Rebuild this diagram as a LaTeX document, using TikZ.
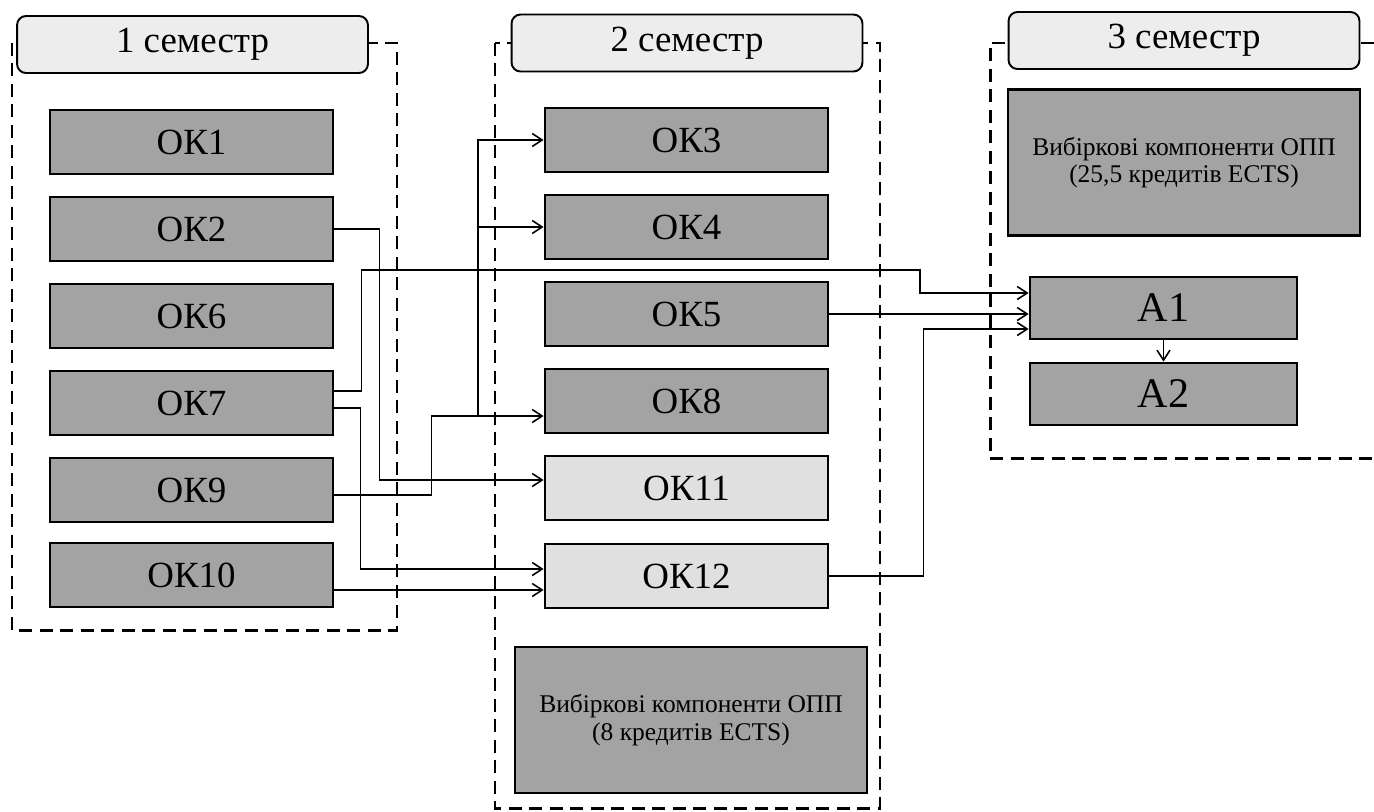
\documentclass[tikz,border=0pt]{standalone}
\usepackage{fontspec}
\setmainfont{Liberation Serif}
\usepackage{tikz}
\usetikzlibrary{arrows.meta,calc}

\definecolor{okgray}{gray}{0.64}
\definecolor{okpale}{gray}{0.88}
\definecolor{headgray}{gray}{0.93}

\begin{document}
\begin{tikzpicture}[x=0.02cm,y=-0.02cm,
    okbox/.style={draw,fill=okgray,line width=1.6pt,minimum width=5.66cm,minimum height=1.28cm,font=\fontsize{21}{24}\selectfont},
    okpalebox/.style={okbox,fill=okpale},
    abox/.style={okbox,minimum width=5.34cm,minimum height=1.24cm,font=\fontsize{24}{28}\selectfont},
    semhead/.style={draw,fill=headgray,rounded corners=0.18cm,line width=1.1pt,minimum width=7.02cm,minimum height=1.14cm,font=\fontsize{21}{25}\selectfont},
    elect/.style={draw,fill=okgray,line width=1.6pt,minimum width=7.04cm,minimum height=2.92cm,align=center,font=\fontsize{14.5}{15.5}\selectfont},
    frame/.style={line width=1.7pt,dash pattern=on 0.26cm off 0.15cm},
    link/.style={-{Straight Barb[length=2mm,width=2.6mm]},line width=0.9pt}]

      \useasboundingbox (0,0) rectangle (1374,812);

      % semester frames
      \draw[frame] (12,43) rectangle (397,630);
      \draw[frame] (495,43) rectangle (880,808);
      \draw[frame] (1374,43) -- (990,43) -- (990,458) -- (1374,458);

      \path (192.5,44.5) node[semhead] (sem1) {1 семестр};
      \path (687,43)     node[semhead] (sem2) {2 семестр};
      \path (1184,40.5)  node[semhead] (sem3) {3 семестр};

      % 1 semester
      \path (191.5,142) node[okbox] (ok1)  {ОК1};
      \path (191.5,229) node[okbox] (ok2)  {ОК2};
      \path (191.5,316) node[okbox] (ok6)  {ОК6};
      \path (191.5,403) node[okbox] (ok7)  {ОК7};
      \path (191.5,490) node[okbox] (ok9)  {ОК9};
      \path (191.5,575) node[okbox] (ok10) {ОК10};

      % 2 semester
      \path (686.5,140) node[okbox]     (ok3)  {ОК3};
      \path (686.5,227) node[okbox]     (ok4)  {ОК4};
      \path (686.5,314) node[okbox]     (ok5)  {ОК5};
      \path (686.5,401) node[okbox]     (ok8)  {ОК8};
      \path (686.5,488) node[okpalebox] (ok11) {ОК11};
      \path (686.5,576) node[okpalebox] (ok12) {ОК12};
      \path (691,720)   node[elect]     (vk2)  {Вибіркові компоненти ОПП\\(8 кредитів ECTS)};

      % 3 semester
      \path (1184,162.5) node[elect] (vk3) {Вибіркові компоненти ОПП\\(25,5 кредитів ECTS)};
      \path (1163.5,308) node[abox]  (a1)  {А1};
      \path (1163.5,394) node[abox]  (a2)  {А2};

      % links
      \draw[link] (ok2.east) -- ++(45,0) |- ($(ok11.west)+(0,-8)$);
      \draw[link] ($(ok7.east)+(0,-12)$) -- ++(27,0) |- (920,270) |- ($(a1.west)+(0,-15)$);
      \draw[link] ($(ok7.east)+(0,5)$) -- ++(26,0) |- ($(ok12.west)+(0,-7)$);
      \draw[link] ($(ok9.east)+(0,5)$) -- ++(97,0) |- ($(ok8.west)+(0,15)$);
      \coordinate (fork) at (478,415);
      \draw[link] (fork) |- (ok3.west);
      \draw[link] (fork) |- (ok4.west);
      \draw[link] ($(ok10.east)+(0,15)$) -- ($(ok12.west)+(0,14)$);
      \draw[link] (ok5.east) -- ($(a1.west)+(0,6)$);
      \draw[link] (ok12.east) -- ++(94,0) |- ($(a1.west)+(0,21)$);
      \draw[link] (a1) -- (a2);

    \end{tikzpicture}
\end{document}
